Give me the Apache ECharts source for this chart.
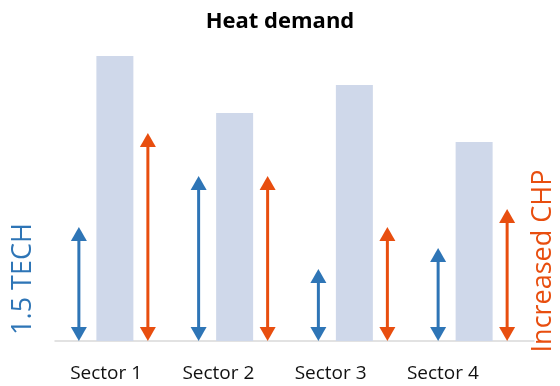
<!DOCTYPE html>
<html>
<head>
<meta charset="utf-8">
<script src="https://cdn.jsdelivr.net/npm/echarts@6/dist/echarts.min.js"></script>
<style>
  html, body { margin: 0; padding: 0; background: #fff; }
  #chart { width: 560px; height: 386px; }
</style>
</head>
<body>
<div id="chart"></div>
<script>
// Sectors and their heat demand, with the two scenario ranges drawn as arrows
const categories = ['Sector 1', 'Sector 2', 'Sector 3', 'Sector 4'];
const heatDemand = [95, 76, 85.3, 66.3];
const techValues = [38, 55, 24, 31];      // 1.5 TECH
const chpValues = [69.3, 55, 38, 44];     // Increased CHP

const BLUE = '#2E75B6';
const ORANGE = '#E84E0F';
const FONT = '"Open Sans", "Noto Sans", sans-serif';

// Double-headed vertical arrow from 0 up to the value, shifted sideways by dx pixels
function arrowRenderer(color, dx) {
  return function (params, api) {
    const idx = api.value(0);
    const top = api.coord([idx, api.value(1)]);
    const base = api.coord([idx, 0]);
    const x = top[0] + dx;
    const headH = 14, headW = 8;
    return {
      type: 'group',
      children: [
        {
          type: 'line',
          shape: { x1: x, y1: top[1] + headH - 1, x2: x, y2: base[1] - headH + 1 },
          style: { stroke: color, lineWidth: 3 }
        },
        {
          type: 'polygon',
          shape: { points: [[x, top[1]], [x - headW, top[1] + headH], [x + headW, top[1] + headH]] },
          style: { fill: color }
        },
        {
          type: 'polygon',
          shape: { points: [[x, base[1]], [x - headW, base[1] - headH], [x + headW, base[1] - headH]] },
          style: { fill: color }
        }
      ]
    };
  };
}

const chart = echarts.init(document.getElementById('chart'));
chart.setOption({
  animation: false,
  title: {
    text: 'Heat demand',
    left: 'center',
    top: 6,
    textStyle: { fontFamily: FONT, fontSize: 22, fontWeight: 'bold', color: '#000' }
  },
  grid: [
    // plotting area for bars and arrows
    { left: 55, right: 26, top: 41, bottom: 45 },
    // sector labels sit on a slightly narrower band
    { left: 50, right: 61, top: 41, bottom: 45 }
  ],
  xAxis: [
    {
      type: 'category',
      gridIndex: 0,
      data: categories,
      axisLine: { lineStyle: { color: '#d9d9d9', width: 1.5 } },
      axisTick: { show: false },
      axisLabel: { show: false }
    },
    {
      type: 'category',
      gridIndex: 1,
      data: categories,
      axisLine: { show: false },
      axisTick: { show: false },
      axisLabel: { fontFamily: FONT, fontSize: 19, color: '#111', margin: 23 }
    }
  ],
  yAxis: [
    { type: 'value', gridIndex: 0, min: 0, max: 100, show: false },
    { type: 'value', gridIndex: 1, min: 0, max: 100, show: false }
  ],
  series: [
    {
      type: 'bar',
      data: heatDemand,
      barWidth: 37,
      itemStyle: { color: '#CFD8EA' },
      silent: true
    },
    {
      type: 'custom',
      data: techValues.map((v, i) => [i, v]),
      renderItem: arrowRenderer(BLUE, -36),
      silent: true
    },
    {
      type: 'custom',
      data: chpValues.map((v, i) => [i, v]),
      renderItem: arrowRenderer(ORANGE, 33),
      silent: true
    }
  ],
  graphic: [
    {
      type: 'text',
      x: 23, y: 279,
      rotation: Math.PI / 2,
      style: {
        text: '1.5 TECH', fill: BLUE, font: '27px ' + FONT,
        align: 'center', verticalAlign: 'middle'
      }
    },
    {
      type: 'text',
      x: 543, y: 261,
      rotation: Math.PI / 2,
      style: {
        text: 'Increased CHP', fill: ORANGE, font: '27px ' + FONT,
        align: 'center', verticalAlign: 'middle'
      }
    }
  ]
});
</script>
</body>
</html>
